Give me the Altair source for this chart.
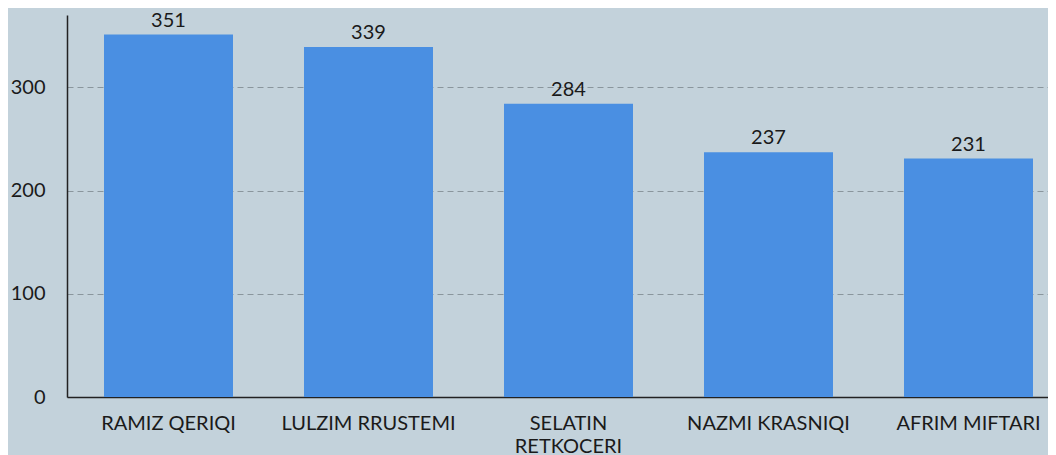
import altair as alt
import pandas as pd

names = ["RAMIZ QERIQI", "LULZIM RRUSTEMI", "SELATIN RETKOCERI", "NAZMI KRASNIQI", "AFRIM MIFTARI"]
votes = [351, 339, 284, 237, 231]
y_ticks = [0, 100, 200, 300]

df = pd.DataFrame({"name": names, "votes": votes})

FONT = "Lato"
x = alt.X(
    "name:N", sort=names, title=None,
    scale=alt.Scale(paddingInner=0.355, paddingOuter=0.13, align=0.7115),
    axis=alt.Axis(labelAngle=0, labelFontSize=20, labelColor="#1a1a1a", labelFont=FONT,
                  ticks=False, domainColor="#222222", domainWidth=1.5, labelPadding=16,
                  labelLineHeight=23, labelLimit=300,
                  labelExpr="length(datum.label) > 16 ? split(datum.label, ' ') : datum.label"),
)
y = alt.Y(
    "votes:Q", title=None,
    scale=alt.Scale(domain=[0, 370], nice=False),
    axis=alt.Axis(values=y_ticks, ticks=False, labelFontSize=20, labelColor="#1a1a1a", labelFont=FONT,
                  labelPadding=22, domainColor="#222222", domainWidth=1.5,
                  grid=True, gridDash=[6, 4], gridColor="#8a969d", gridWidth=1.2),
)

bars = alt.Chart(df).mark_bar(color="#4a8fe2").encode(x=x, y=y)
labels = alt.Chart(df).mark_text(baseline="bottom", dy=-4, fontSize=20, font=FONT, color="#1a1a1a").encode(
    x=alt.X("name:N", sort=names), y="votes:Q", text="votes:Q"
)

chart = (bars + labels).properties(
    width=981, height=382,
    autosize=alt.AutoSizeParams(type="none"),
    padding={"left": 59, "top": 7, "right": 0, "bottom": 58},
    background="#c3d2db",
).configure_view(stroke=None).configure_axis(gridOpacity=1)

chart.save("out.html", embed_options={"renderer": "svg", "actions": False})
